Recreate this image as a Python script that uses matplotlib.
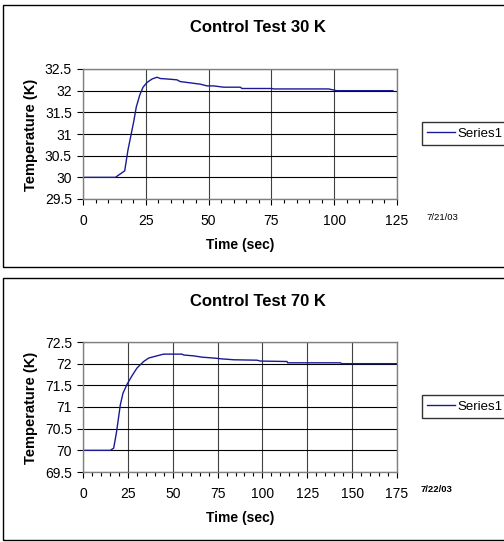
import matplotlib
matplotlib.use("Agg")
import matplotlib.pyplot as plt
from matplotlib.patches import Rectangle
from matplotlib.ticker import MultipleLocator

## Data
time_30 = [0, 12.9, 16.6, 17.9, 20.2, 21.2, 22.6, 23.9, 25.5, 27.5, 29.5, 30.8,
           33.4, 37.4, 38.7, 42.7, 46.7, 49.4, 52, 56, 62.6, 63.3, 75.2, 75.9,
           97.8, 101, 123.4]
temp_30 = [30.0, 30.0, 30.15, 30.63, 31.29, 31.62, 31.9, 32.08, 32.19, 32.27,
           32.31, 32.28, 32.27, 32.25, 32.21, 32.18, 32.15, 32.11, 32.11, 32.08,
           32.08, 32.05, 32.05, 32.04, 32.04, 32.0, 32.0]

time_70 = [0, 15.2, 17.1, 18.6, 19.9, 20.8, 22.3, 24.5, 27.3, 30.1, 33.8, 36.6,
           41.2, 44.9, 55.2, 56.1, 61.7, 66.3, 72.8, 77.5, 84, 97, 98.8, 113.7,
           114, 143.4, 144.3, 175]
temp_70 = [70.0, 70.0, 70.05, 70.4, 70.78, 71.05, 71.32, 71.52, 71.72, 71.9,
           72.05, 72.13, 72.18, 72.22, 72.22, 72.2, 72.18, 72.15, 72.13, 72.11,
           72.09, 72.08, 72.06, 72.05, 72.02, 72.02, 72.0, 72.0]

titles = ["Control Test 30 K", "Control Test 70 K"]
dates = ["7/21/03", "7/22/03"]
date_weights = ["normal", "bold"]
date_x = [426, 421]
xmax = [125, 175]
ylims = [(29.5, 32.5), (69.5, 72.5)]

plt.rcParams["font.family"] = ["Liberation Sans", "DejaVu Sans"]

W, H = 504, 542
fig = plt.figure(figsize=(W / 100, H / 100), dpi=100)


def fx(px):
    return px / W


def fy(py):
    return 1 - py / H


def panel(top, x, y, title, date, dweight, dx, xm, ylim):
    # outer chart frame (right side runs off the picture, as in the original)
    fig.patches.append(Rectangle((fx(3), fy(top + 262)), fx(520), 262 / H,
                                 transform=fig.transFigure, fill=False,
                                 edgecolor="black", linewidth=1.0))
    ax = fig.add_axes([fx(83), fy(top + 194), fx(314), 130 / H])
    ax.plot(x, y, "-", color="#1a1a96", linewidth=1.0, label="Series1")
    ax.set_xlim(0, xm)
    ax.set_ylim(*ylim)
    ax.xaxis.set_major_locator(MultipleLocator(25))
    ax.xaxis.set_minor_locator(MultipleLocator(5))
    ax.yaxis.set_major_locator(MultipleLocator(0.5))
    ax.set_yticklabels([("%g" % v) for v in ax.get_yticks()])
    ax.grid(axis="y", color="black", linewidth=0.8)
    ax.grid(axis="x", which="major", color="#404040", linewidth=0.8)
    for s in ax.spines.values():
        s.set_color("#808080")
        s.set_linewidth(1.0)
    ax.tick_params(axis="both", which="major", direction="out", length=4,
                   width=0.8, color="black", labelsize=10, pad=4)
    ax.tick_params(axis="x", which="minor", direction="out", length=3,
                   width=0.8, color="black")
    ax.tick_params(axis="x", which="major", pad=7)

    fig.text(fx(258), fy(top + 23), title, fontsize=12, fontweight="bold",
             ha="center", va="center")
    fig.text(fx(240), fy(top + 240), "Time (sec)", fontsize=10,
             fontweight="bold", ha="center", va="center")
    fig.text(fx(31), fy(top + 130), "Temperature (K)", fontsize=10.5,
             fontweight="bold", ha="center", va="center", rotation=90)
    fig.text(fx(dx), fy(top + 212), date, fontsize=6.8, fontweight=dweight,
             va="center", ha="left")
    ax.legend(loc="center left", bbox_to_anchor=(fx(422), fy(top + 128.5)),
              bbox_transform=fig.transFigure, frameon=True, fancybox=False,
              edgecolor="black", borderaxespad=0, fontsize=9.5,
              handlelength=2.1, borderpad=0.4, handletextpad=0.2)
    return ax


panel(5, time_30, temp_30, titles[0], dates[0], date_weights[0], date_x[0],
      xmax[0], ylims[0])
panel(278, time_70, temp_70, titles[1], dates[1], date_weights[1], date_x[1],
      xmax[1], ylims[1])

fig.savefig("out.png", dpi=100)
